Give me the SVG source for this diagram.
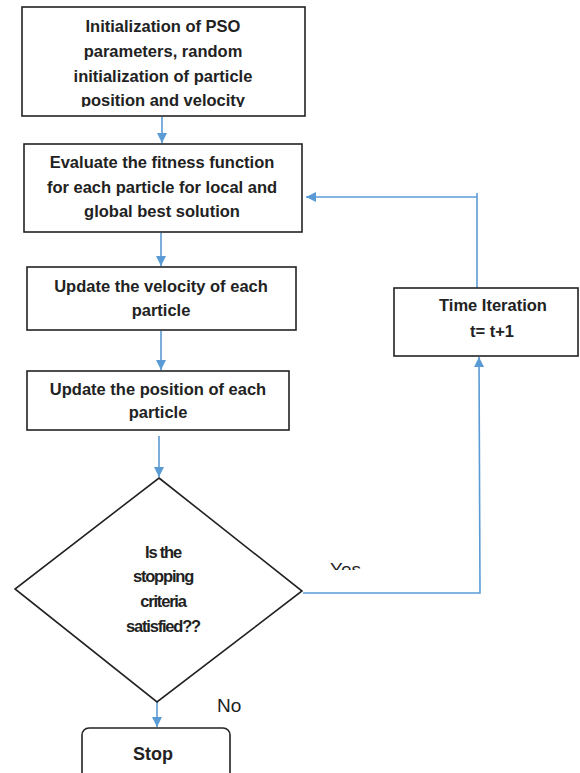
<svg xmlns="http://www.w3.org/2000/svg" width="580" height="773" viewBox="0 0 580 773">
<style>
.box{fill:#fff;stroke:#222;stroke-width:1.6}
.t{font-family:"Liberation Sans",Arial,sans-serif;font-weight:bold;font-size:16.5px;fill:#222;text-anchor:middle}
.d{font-size:16.5px;letter-spacing:-1.2px}
.lbl{font-family:"Liberation Sans",Arial,sans-serif;font-size:19px;fill:#222}
.c{fill:none;stroke:#5b9bd5;stroke-width:1.6}
</style>
<defs>
<marker id="ah" viewBox="0 0 10 10" refX="10" refY="5" markerWidth="10" markerHeight="10" markerUnits="userSpaceOnUse" orient="auto">
<path d="M0,0 L10,5 L0,10 z" fill="#5b9bd5"/>
</marker>
<clipPath id="c1"><rect x="0" y="0" width="580" height="107"/></clipPath>
<clipPath id="cy"><rect x="300" y="540" width="100" height="30"/></clipPath>
</defs>
<g id="connectors">
<line class="c" x1="162" y1="117" x2="162" y2="143" marker-end="url(#ah)"/>
<line class="c" x1="161" y1="233" x2="161" y2="266" marker-end="url(#ah)"/>
<line class="c" x1="161" y1="331" x2="161" y2="370" marker-end="url(#ah)"/>
<line class="c" x1="159" y1="436" x2="159" y2="477" marker-end="url(#ah)"/>
<line class="c" x1="157" y1="702" x2="157" y2="727" marker-end="url(#ah)"/>
<polyline class="c" points="303,593 480,593 479,357" marker-end="url(#ah)"/>
<polyline class="c" points="477,288 477,193"/>
<line class="c" x1="477" y1="197" x2="306" y2="197" marker-end="url(#ah)"/>
<text class="lbl" x="330" y="576" clip-path="url(#cy)">Yes</text>
<text class="lbl" x="217" y="712">No</text>
</g>
<g id="init">
<rect class="box" x="22" y="7" width="283" height="109"/>
<g clip-path="url(#c1)">
<text class="t" x="163" y="32">Initialization of PSO</text>
<text class="t" x="163" y="57">parameters, random</text>
<text class="t" x="163" y="82">initialization of particle</text>
<text class="t" x="163" y="106">position and velocity</text>
</g>
</g>
<g id="evaluate">
<rect class="box" x="24" y="144" width="278" height="88"/>
<text class="t" x="162" y="168">Evaluate the fitness function</text>
<text class="t" x="162" y="193">for each particle for local and</text>
<text class="t" x="162" y="217">global best solution</text>
</g>
<g id="velocity">
<rect class="box" x="27" y="267" width="269" height="63"/>
<text class="t" x="161" y="292">Update the velocity of each</text>
<text class="t" x="161" y="316">particle</text>
</g>
<g id="position">
<rect class="box" x="27" y="371" width="262" height="59"/>
<text class="t" x="158" y="395">Update the position of each</text>
<text class="t" x="158" y="418">particle</text>
</g>
<g id="decision">
<polygon class="box" points="159,478 302,591 157,702 15,589"/>
<text class="t d" x="163" y="558">Is the</text>
<text class="t d" x="163" y="582">stopping</text>
<text class="t d" x="163" y="607">criteria</text>
<text class="t d" x="163" y="632">satisfied??</text>
</g>
<g id="iteration">
<rect class="box" x="394" y="288" width="184" height="68"/>
<text class="t" x="493" y="311">Time Iteration</text>
<text class="t" x="492" y="337">t= t+1</text>
</g>
<g id="stop">
<rect class="box" x="82" y="728" width="148" height="60" rx="7"/>
<text class="t" x="153" y="760" style="font-size:18px">Stop</text>
</g>
</svg>
